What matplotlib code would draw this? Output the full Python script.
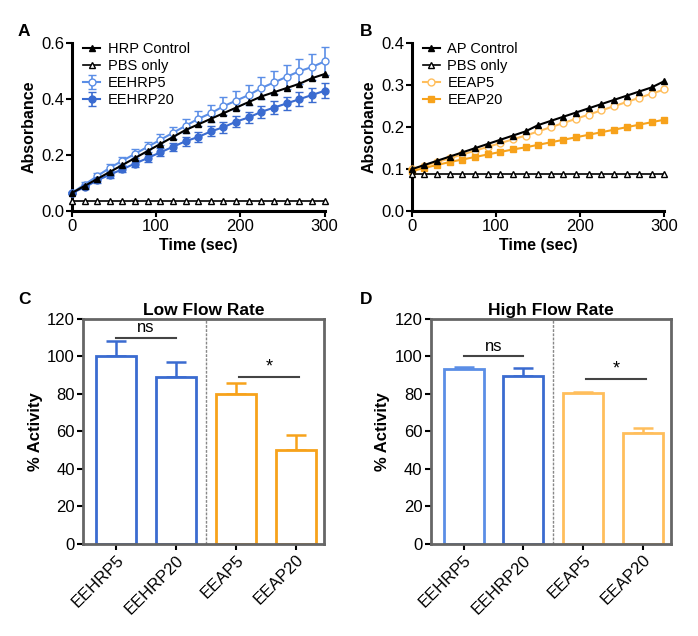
import numpy as np
import matplotlib.pyplot as plt

plt.rcParams['font.family'] = ['Liberation Sans', 'DejaVu Sans']

# time points (sec)
time_sec = [0, 15, 30, 45, 60, 75, 90, 105, 120, 135, 150, 165, 180, 195, 210, 225, 240, 255, 270, 285, 300]

# panel A - HRP kinetics
hrp_control = [0.065, 0.09, 0.115, 0.14, 0.165, 0.19, 0.215, 0.24, 0.265, 0.29, 0.31,
               0.33, 0.35, 0.37, 0.39, 0.41, 0.425, 0.44, 0.455, 0.475, 0.49]
hrp_pbs = [0.035, 0.035, 0.035, 0.035, 0.035, 0.035, 0.035, 0.035, 0.035, 0.035, 0.035,
           0.035, 0.035, 0.035, 0.035, 0.035, 0.035, 0.035, 0.035, 0.035, 0.035]
eehrp5 = [0.065, 0.095, 0.125, 0.155, 0.18, 0.205, 0.23, 0.255, 0.28, 0.305, 0.33,
          0.35, 0.375, 0.395, 0.415, 0.44, 0.46, 0.48, 0.5, 0.515, 0.535]
eehrp5_err = [0.005, 0.008, 0.01, 0.012, 0.014, 0.016, 0.018, 0.02, 0.022, 0.025, 0.027,
              0.03, 0.032, 0.034, 0.036, 0.038, 0.04, 0.042, 0.045, 0.048, 0.05]
eehrp20 = [0.065, 0.085, 0.11, 0.13, 0.15, 0.17, 0.19, 0.21, 0.23, 0.25, 0.265,
           0.285, 0.3, 0.32, 0.335, 0.355, 0.37, 0.385, 0.4, 0.415, 0.43]
eehrp20_err = [0.005, 0.006, 0.008, 0.01, 0.011, 0.012, 0.013, 0.014, 0.015, 0.016, 0.017,
               0.018, 0.019, 0.02, 0.021, 0.022, 0.023, 0.024, 0.025, 0.026, 0.027]

# panel B - AP kinetics
ap_control = [0.1, 0.11, 0.12, 0.13, 0.14, 0.15, 0.16, 0.17, 0.18, 0.19, 0.205,
              0.215, 0.225, 0.235, 0.245, 0.255, 0.265, 0.275, 0.285, 0.295, 0.31]
ap_pbs = [0.088, 0.088, 0.088, 0.088, 0.088, 0.088, 0.088, 0.088, 0.088, 0.088, 0.088,
          0.088, 0.088, 0.088, 0.088, 0.088, 0.088, 0.088, 0.088, 0.088, 0.088]
eeap5 = [0.1, 0.108, 0.117, 0.126, 0.135, 0.144, 0.153, 0.162, 0.171, 0.18, 0.19,
         0.2, 0.21, 0.22, 0.23, 0.24, 0.25, 0.26, 0.27, 0.28, 0.29]
eeap20 = [0.095, 0.103, 0.11, 0.117, 0.123, 0.129, 0.135, 0.141, 0.147, 0.152, 0.158,
          0.164, 0.17, 0.176, 0.182, 0.188, 0.194, 0.2, 0.206, 0.212, 0.218]

# panels C / D - % activity
bar_labels = ["EEHRP5", "EEHRP20", "EEAP5", "EEAP20"]
low_flow = [100, 89, 80, 50]
low_flow_err = [8, 8, 6, 8]
high_flow = [93, 89.5, 80.5, 59]
high_flow_err = [1.5, 4.5, 0.5, 3]

BLUE_L = "#5b8ee6"
BLUE_D = "#3a6bd0"
ORANGE_L = "#ffbe5c"
ORANGE_D = "#f7a21b"

TICK_FS = 12
LABEL_FS = 11.5

fig = plt.figure(figsize=(6.98, 6.36), dpi=100)


def style_line_axes(ax, ymax, yticks):
    ax.set_xlim(0, 300)
    ax.set_ylim(0, ymax)
    ax.set_xticks([0, 100, 200, 300])
    ax.set_yticks(yticks)
    for s in ["top", "right"]:
        ax.spines[s].set_visible(False)
    for s in ["left", "bottom"]:
        ax.spines[s].set_linewidth(2.2)
    ax.tick_params(direction="out", length=4, width=1.5, labelsize=TICK_FS, pad=1.5)
    ax.set_xlabel("Time (sec)", fontsize=LABEL_FS, fontweight="bold", labelpad=3)
    ax.set_ylabel("Absorbance", fontsize=LABEL_FS, fontweight="bold", labelpad=3)


# --- Panel A
axA = fig.add_axes([0.103, 0.668, 0.362, 0.264])
axA.plot(time_sec, hrp_control, "-^", color="black", ms=5, lw=1.5, label="HRP Control", zorder=4)
axA.plot(time_sec, hrp_pbs, "-^", color="black", mfc="white", ms=5, lw=1.2, label="PBS only", zorder=4)
axA.errorbar(time_sec, eehrp5, yerr=eehrp5_err, fmt="-o", color=BLUE_L, mfc="white", ms=5,
             lw=1.5, capsize=3, elinewidth=1.2, label="EEHRP5", zorder=3)
axA.errorbar(time_sec, eehrp20, yerr=eehrp20_err, fmt="-o", color=BLUE_D, ms=5,
             lw=1.5, capsize=3, elinewidth=1.2, label="EEHRP20", zorder=3)
style_line_axes(axA, 0.6, [0.0, 0.2, 0.4, 0.6])
axA.yaxis.set_major_formatter(plt.FormatStrFormatter("%.1f"))
axA.legend(loc="upper left", frameon=False, fontsize=10.5, handlelength=1.2,
           handletextpad=0.5, labelspacing=0.2, borderaxespad=0.0,
           bbox_to_anchor=(0.02, 1.04))
for art in axA.lines + axA.collections:
    art.set_clip_on(False)

# --- Panel B
axB = fig.add_axes([0.590, 0.668, 0.362, 0.264])
axB.plot(time_sec, ap_control, "-^", color="black", ms=5, lw=1.5, label="AP Control", zorder=4)
axB.plot(time_sec, ap_pbs, "-^", color="black", mfc="white", ms=5, lw=1.2, label="PBS only", zorder=4)
axB.plot(time_sec, eeap5, "-o", color=ORANGE_L, mfc="white", ms=5, lw=1.5, label="EEAP5", zorder=3)
axB.plot(time_sec, eeap20, "-s", color=ORANGE_D, ms=5, lw=1.5, label="EEAP20", zorder=3)
style_line_axes(axB, 0.4, [0.0, 0.1, 0.2, 0.3, 0.4])
axB.yaxis.set_major_formatter(plt.FormatStrFormatter("%.1f"))
axB.legend(loc="upper left", frameon=False, fontsize=10.5, handlelength=1.2,
           handletextpad=0.5, labelspacing=0.2, borderaxespad=0.0,
           bbox_to_anchor=(0.02, 1.04))
for art in axB.lines:
    art.set_clip_on(False)


# --- Panels C and D
def bar_panel(ax, vals, errs, colors, title, ns_y, star_y):
    x = np.arange(len(vals))
    for i in range(len(vals)):
        ax.bar(x[i], vals[i], width=0.67, facecolor="white", edgecolor=colors[i], linewidth=2, zorder=2)
        ax.errorbar(x[i], vals[i], yerr=[[0], [errs[i]]], color=colors[i], capsize=7,
                    elinewidth=1.8, capthick=1.8, zorder=1)
    ax.set_xlim(-0.55, 3.47)
    ax.set_ylim(0, 120)
    ax.set_yticks(range(0, 121, 20))
    ax.set_xticks(x)
    ax.set_xticklabels(bar_labels, rotation=45, ha="right", rotation_mode="anchor", fontsize=TICK_FS)
    ax.tick_params(direction="out", length=4, width=1.5, labelsize=TICK_FS, pad=2)
    for s in ax.spines.values():
        s.set_color("#666666")
        s.set_linewidth(2)
    ax.axvline(1.5, color="#888888", lw=1, ls=(0, (2, 1)))
    ax.set_title(title, fontsize=12.5, fontweight="bold", pad=3)
    ax.set_ylabel("% Activity", fontsize=12, fontweight="bold", labelpad=3)
    ax.plot([0, 1], [ns_y, ns_y], color="#444444", lw=1.5)
    ax.text(0.5, ns_y + 1.5, "ns", ha="center", va="bottom", fontsize=12)
    ax.plot([2.05, 3.05], [star_y, star_y], color="#444444", lw=1.5)
    ax.text(2.55, star_y + 1.0, "*", ha="center", va="bottom", fontsize=13)


axC = fig.add_axes([0.119, 0.1447, 0.345, 0.354])
bar_panel(axC, low_flow, low_flow_err, [BLUE_D, BLUE_D, ORANGE_D, ORANGE_D],
          "Low Flow Rate", 110, 89)

axD = fig.add_axes([0.617, 0.1447, 0.344, 0.354])
bar_panel(axD, high_flow, high_flow_err, [BLUE_L, BLUE_D, ORANGE_L, ORANGE_L],
          "High Flow Rate", 100, 88)

# panel letters
for lbl, (px, py) in zip("ABCD", [(18, 32), (360, 32), (18, 300), (360, 300)]):
    fig.text(px / 698, 1 - py / 636, lbl, fontsize=12.5, fontweight="bold", ha="left", va="center")

fig.savefig("out.png", dpi=100)
